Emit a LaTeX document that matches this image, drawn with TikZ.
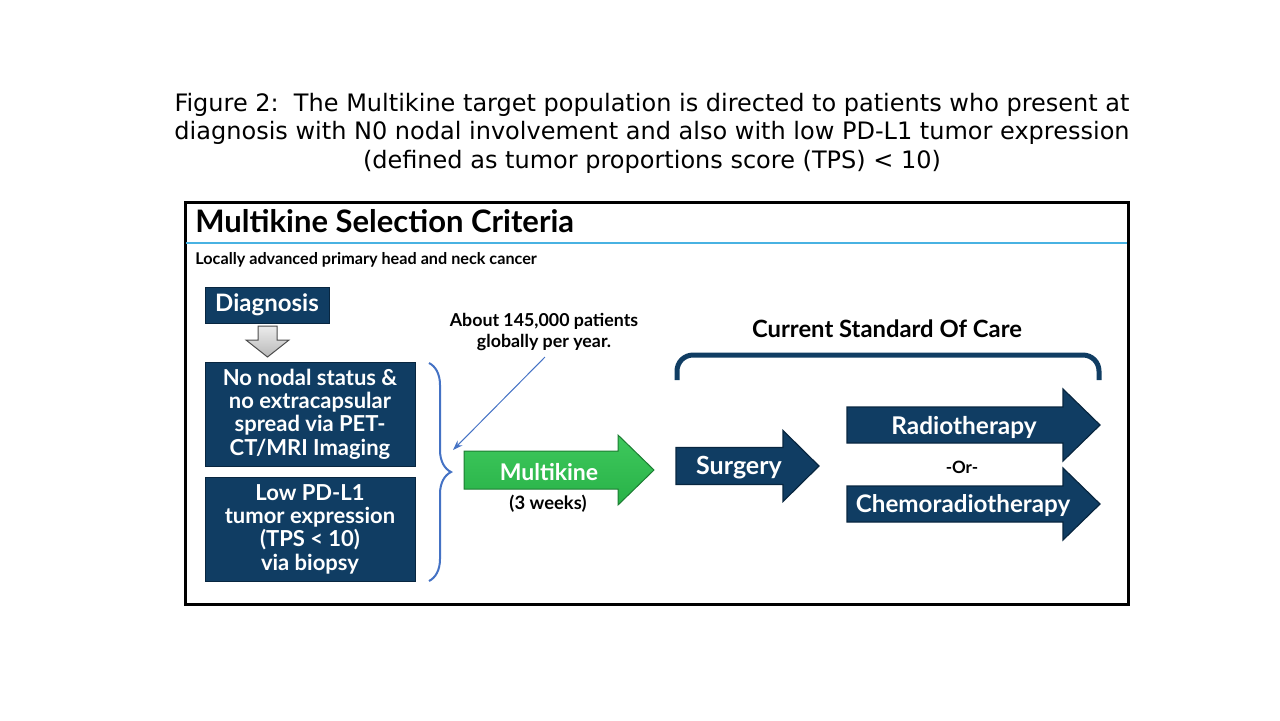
\documentclass[tikz,border=0pt]{standalone}
\usepackage{fontspec}
\setmainfont{Lato}
\newfontfamily\capfont{DejaVu Sans}
\usetikzlibrary{decorations.pathreplacing,arrows.meta}

\definecolor{navy}{RGB}{16,61,99}
\definecolor{navyedge}{RGB}{8,38,64}
\definecolor{mkgreen}{RGB}{40,178,72}
\definecolor{mkgreenlt}{RGB}{62,200,92}
\definecolor{bracecol}{RGB}{68,114,196}
\definecolor{rulecol}{RGB}{72,178,226}

\tikzset{
  navybox/.style={draw=navyedge, fill=navy, text=white, font=\bfseries\fontsize{11}{11.7}\selectfont, align=center, inner sep=0pt},
  navyarrow/.style={draw=navyedge, line width=0.6pt, fill=navy},
  arrowtext/.style={text=white, font=\bfseries\fontsize{12.2}{14}\selectfont},
  plaintext/.style={font=\bfseries\fontsize{8.9}{10.5}\selectfont, align=center},
}

% block arrow: style, tail x, head start x, tip x, centre y, half shaft, half head
\newcommand{\blockarrow}[7]{%
  \path[#1] (#2,#5-#6) -- (#3,#5-#6) -- (#3,#5-#7) -- (#4,#5) -- (#3,#5+#7) -- (#3,#5+#6) -- (#2,#5+#6) -- cycle;}

\begin{document}
\begin{tikzpicture}[x=0.5pt, y=-0.5pt]
    \useasboundingbox (0,0) rectangle (1280,720);

    % caption
    \node[font=\capfont\fontsize{12}{14.25}\selectfont, align=center] (caption) at (652,133)
      {Figure 2:\ \ The Multikine target population is directed to patients who present at\\
       diagnosis with N0 nodal involvement and also with low PD-L1 tumor expression\\
       (defined as tumor proportions score (TPS) < 10)};

    % frame
    \draw[line width=1.5pt] (185,202) rectangle (1128,604);
    \draw[rulecol, line width=1pt] (186,243) -- (1127,243);
    \node[anchor=base west, inner sep=0pt, font=\bfseries\fontsize{15.5}{17}\selectfont] (title) at (195,232) {Multikine Selection Criteria};
    \node[anchor=base west, inner sep=0pt, font=\bfseries\fontsize{8.1}{9}\selectfont] (subtitle) at (195,264) {Locally advanced primary head and neck cancer};

    % left column
    \node[navybox, font=\bfseries\fontsize{12}{14}\selectfont, minimum width=62pt, minimum height=18pt] (diag) at (267,305) {Diagnosis};
    \path[draw=black!70, line width=0.5pt, top color=gray!15, bottom color=gray!55]
      (258,326) -- (277,326) -- (277,340) -- (289,340) -- (267.5,357) -- (246,340) -- (258,340) -- cycle;
    \node[navybox, minimum width=105pt, minimum height=52pt] (nodal) at (310,414)
      {No nodal status \&\\ no extracapsular\\ spread via PET-\\ CT/MRI Imaging};
    \node[navybox, minimum width=105pt, minimum height=52pt] (pdl) at (310,529)
      {Low PD-L1\\ tumor expression\\ (TPS < 10)\\ via biopsy};

    % brace
    \draw[bracecol, line width=1pt, decorate, decoration={brace, amplitude=11pt}] (429,363) -- (429,581);

    % note
    \node[plaintext] (note) at (544,332) {About 145,000 patients\\ globally per year.};
    \coordinate (bracetip) at (453,450);
    \draw[bracecol, line width=0.5pt, -{Stealth[length=5pt,width=3.5pt]}] (545,357) -- (bracetip);

    % multikine
    \blockarrow{draw=mkgreen!70!black, line width=0.5pt, top color=mkgreenlt, bottom color=mkgreen}{464}{618}{654}{470}{19}{35}
    \node[arrowtext, font=\bfseries\fontsize{11.5}{13}\selectfont] (mk) at (549,472) {Multikine};
    \node[font=\bfseries\fontsize{9.2}{11}\selectfont] (weeks) at (548,504) {(3 weeks)};

    % standard of care
    \node[font=\bfseries\fontsize{11.9}{14}\selectfont] (soc) at (887,329) {Current Standard Of Care};
    \draw[navy, line width=2.5pt, rounded corners=8pt] (677,380) -- (677,355) -- (1099,355) -- (1099,380);

    \blockarrow{navyarrow}{676}{783}{819}{466}{18.5}{35.5}
    \node[arrowtext, font=\bfseries\fontsize{12.5}{14}\selectfont] (surg) at (739,468) {Surgery};
    \blockarrow{navyarrow}{847}{1063}{1100}{425}{18}{36}
    \node[arrowtext] (radio) at (964,427) {Radiotherapy};
    \node[font=\bfseries\fontsize{8.5}{10}\selectfont] (or) at (962,467) {-Or-};
    \blockarrow{navyarrow}{847}{1063}{1100}{504}{18}{36}
    \node[arrowtext, font=\bfseries\fontsize{12.1}{14}\selectfont] (chemo) at (963,506) {Chemoradiotherapy};
\end{tikzpicture}
\end{document}
